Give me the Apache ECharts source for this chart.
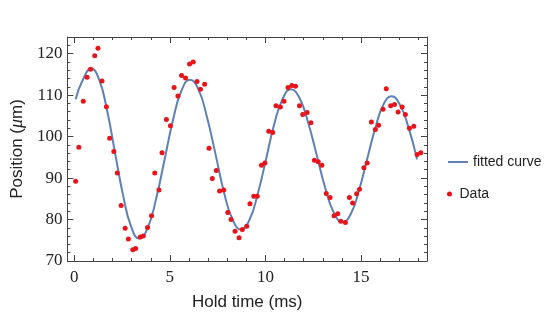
<!DOCTYPE html>
<html>
<head>
<meta charset="utf-8">
<script src="https://cdn.jsdelivr.net/npm/echarts@6/dist/echarts.min.js"></script>
<style>
  html, body { margin: 0; padding: 0; background: #fff; }
  #chart { width: 550px; height: 316px; }
</style>
</head>
<body>
<div id="chart"></div>
<script>
// measured points (hold time in ms, position in um)
var holdTimes = [
  0.07, 0.24, 0.47, 0.67, 0.85, 1.07, 1.24, 1.45, 1.68, 1.85,
  2.07, 2.25, 2.45, 2.66, 2.83, 3.06, 3.21, 3.45, 3.61, 3.83,
  4.04, 4.21, 4.43, 4.59, 4.82, 5.03, 5.22, 5.42, 5.61, 5.82,
  6.03, 6.22, 6.42, 6.60, 6.82, 7.05, 7.22, 7.43, 7.60, 7.82,
  8.03, 8.20, 8.41, 8.62, 8.79, 9.02, 9.19, 9.39, 9.57, 9.79,
  9.97, 10.17, 10.38, 10.55, 10.78, 10.97, 11.18, 11.38, 11.57, 11.78,
  11.95, 12.18, 12.38, 12.56, 12.76, 12.95, 13.18, 13.38, 13.59, 13.78,
  13.94, 14.18, 14.39, 14.56, 14.77, 14.92, 15.15, 15.32, 15.54, 15.75,
  15.92, 16.15, 16.32, 16.55, 16.75, 16.94, 17.15, 17.32, 17.53, 17.76,
  17.94, 18.13
]
var positions = [
  89.2, 97.4, 108.5, 114.3, 116.2, 119.5, 121.3, 113.4, 107.2, 99.6,
  96.4, 91.2, 83.4, 77.9, 75.3, 72.7, 73.0, 75.8, 76.0, 78.1,
  80.9, 91.2, 87.1, 96.1, 104.1, 102.6, 111.8, 109.8, 114.7, 114.1,
  117.5, 118.0, 113.3, 111.4, 112.6, 97.2, 89.9, 91.8, 86.9, 87.1,
  81.7, 80.0, 77.2, 75.6, 77.6, 78.4, 83.8, 85.6, 85.6, 93.1,
  93.6, 101.3, 101.0, 107.4, 107.1, 108.5, 111.8, 112.3, 112.1, 107.4,
  105.3, 105.8, 103.3, 94.3, 93.9, 93.1, 86.3, 85.3, 80.9, 81.4,
  79.6, 79.3, 85.3, 84.0, 86.2, 87.3, 92.5, 93.6, 103.5, 101.7,
  102.7, 106.6, 111.5, 107.4, 107.7, 105.9, 107.1, 105.3, 102.0, 102.5,
  95.7, 96.1
]

// fitted curve
var fitTimes = [
  0.07, 0.45, 0.88, 1.30, 1.72, 2.14, 2.56, 2.98, 3.40,
  3.84, 4.28, 4.73, 5.17, 5.61, 6.05,
  6.50, 6.94, 7.39, 7.83, 8.28, 8.72,
  9.16, 9.59, 10.03, 10.46, 10.90, 11.33,
  11.78, 12.23, 12.69, 13.14, 13.59, 14.04,
  14.47, 14.89, 15.32, 15.75, 16.17, 16.60,
  17.03, 17.47, 17.93
]
var fitValues = [
  109.0, 113.7, 116.4, 113.7, 106.2, 95.9, 85.7, 78.2, 75.4,
  78.0, 85.0, 94.6, 104.1, 111.1, 113.7,
  111.3, 104.7, 95.7, 86.6, 80.0, 77.6,
  79.9, 86.1, 94.5, 103.0, 109.1, 111.4,
  109.3, 103.4, 95.4, 87.4, 81.5, 79.4,
  81.4, 87.0, 94.6, 102.1, 107.7, 109.7,
  107.7, 102.4, 94.5
]

var xTickLabels = [0, 5, 10, 15]
var xMinorTicks = [1, 2, 3, 4, 6, 7, 8, 9, 11, 12, 13, 14, 16, 17, 18]
var yTickLabels = [70, 80, 90, 100, 110, 120]
var yMinorTicks = [72, 74, 76, 78, 82, 84, 86, 88, 92, 94, 96, 98, 102, 104, 106, 108, 112, 114, 116, 118, 122]

var X_MIN = -0.36
var X_MAX = 18.45
var Y_MIN = 70
var Y_MAX = 124

var frameColor = '#444'
var curveColor = '#5e81b5'
var dotColor = '#e8141a'

function makeXAxis(position, ticks, len, withLabels, withLine) {
  return {
    type: 'value',
    position: position,
    min: X_MIN,
    max: X_MAX,
    splitLine: { show: false },
    axisLine: { show: withLine, onZero: false, lineStyle: { color: frameColor, width: 1 } },
    axisTick: { show: true, inside: true, length: len, customValues: ticks, lineStyle: { color: frameColor } },
    axisLabel: withLabels ? {
      show: true, customValues: ticks, margin: 8,
      fontFamily: 'Liberation Serif', fontSize: 17, color: '#222'
    } : { show: false }
  }
}

function makeYAxis(position, ticks, len, withLabels, withLine) {
  return {
    type: 'value',
    position: position,
    min: Y_MIN,
    max: Y_MAX,
    splitLine: { show: false },
    axisLine: { show: withLine, onZero: false, lineStyle: { color: frameColor, width: 1 } },
    axisTick: { show: true, inside: true, length: len, customValues: ticks, lineStyle: { color: frameColor } },
    axisLabel: withLabels ? {
      show: true, customValues: ticks, margin: 5,
      fontFamily: 'Liberation Serif', fontSize: 17, color: '#222'
    } : { show: false }
  }
}

var chart = echarts.init(document.getElementById('chart'), null, { renderer: 'canvas' })

var curvePoints = []
for (var i = 0; i < fitTimes.length; i++) curvePoints.push([fitTimes[i], fitValues[i]])
var dataPoints = []
for (var j = 0; j < holdTimes.length; j++) dataPoints.push([holdTimes[j], positions[j]])

var xMain = makeXAxis('bottom', xTickLabels, 6, true, true)
xMain.name = 'Hold time (ms)'
xMain.nameLocation = 'middle'
xMain.nameGap = 33
xMain.nameTextStyle = { fontFamily: 'Liberation Sans', fontSize: 17, color: '#222' }

var yMain = makeYAxis('left', yTickLabels, 6, true, true)
yMain.name = 'Position ({i|μ}m)'
yMain.nameLocation = 'middle'
yMain.nameGap = 41
yMain.nameTextStyle = {
  fontFamily: 'Liberation Sans', fontSize: 17, color: '#222',
  rich: { i: { fontFamily: 'Liberation Serif', fontStyle: 'italic', fontSize: 18, color: '#222' } }
}

var legendText = { fontFamily: 'Liberation Sans', fontSize: 14, color: '#222' }

chart.setOption({
  animation: false,
  grid: { left: 62, right: 123, top: 37, bottom: 54, containLabel: false },
  legend: [
    {
      orient: 'vertical',
      left: 443,
      top: 150,
      itemWidth: 20,
      itemHeight: 2,
      icon: 'rect',
      textStyle: legendText,
      itemStyle: { color: curveColor },
      data: ['fitted curve']
    },
    {
      orient: 'vertical',
      left: 442,
      top: 182,
      itemWidth: 10,
      itemHeight: 5,
      icon: 'circle',
      textStyle: legendText,
      data: ['Data']
    }
  ],
  xAxis: [
    xMain,
    makeXAxis('bottom', xMinorTicks, 3, false, false),
    makeXAxis('top', xTickLabels, 6, false, true),
    makeXAxis('top', xMinorTicks, 3, false, false)
  ],
  yAxis: [
    yMain,
    makeYAxis('left', yMinorTicks, 3, false, false),
    makeYAxis('right', yTickLabels, 6, false, true),
    makeYAxis('right', yMinorTicks, 3, false, false)
  ],
  series: [
    {
      name: 'fitted curve',
      type: 'line',
      xAxisIndex: 0,
      yAxisIndex: 0,
      data: curvePoints,
      smooth: 0.5,
      symbol: 'none',
      lineStyle: { color: curveColor, width: 2 },
      itemStyle: { color: curveColor },
      z: 2
    },
    {
      name: 'Data',
      type: 'scatter',
      xAxisIndex: 0,
      yAxisIndex: 0,
      data: dataPoints,
      symbol: 'circle',
      symbolSize: 5,
      itemStyle: { color: dotColor, opacity: 1 },
      z: 3
    }
  ]
})
</script>
</body>
</html>
